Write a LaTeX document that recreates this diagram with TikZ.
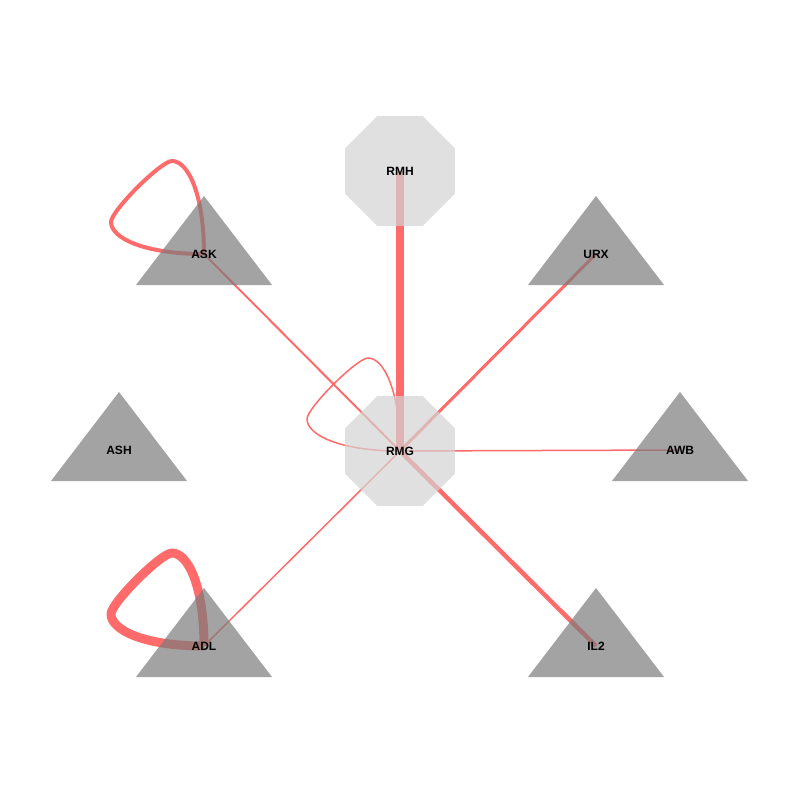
\documentclass[tikz,border=0pt]{standalone}
\usepackage{fontspec}
\setmainfont{Liberation Sans}
\usetikzlibrary{shapes.geometric}
\pgfdeclarelayer{bg}
\pgfsetlayers{bg,main}
\definecolor{edgecol}{RGB}{255,107,107}
\definecolor{octcol}{RGB}{211,211,211}
\definecolor{tricol}{RGB}{124,124,124}
\tikzset{
  edge/.style={draw=edgecol, line cap=butt, line join=round},
  octa/.style={regular polygon, regular polygon sides=8, minimum size=119pt, inner sep=0pt,
    fill=octcol, fill opacity=0.7, text opacity=1, font=\bfseries\fontsize{12}{14}\selectfont},
  lab/.style={inner sep=0pt, font=\bfseries\fontsize{12}{14}\selectfont},
  trifill/.style={fill=tricol, fill opacity=0.7},
}
\newcommand{\trinode}[3]{%
  \fill[trifill] (#2,#3) ++(0,-58) -- ++(68,89) -- ++(-136,0) -- cycle;
  \node[lab] (#1) at (#2,#3) {#1};}
% self loop: start at node centre, go up to a top apex, diagonal to a left apex, back
\newcommand{\selfloop}[2]{%
  \draw[edge, line width=#2] (#1.center)
    .. controls +(0,-60) and +(16,0) .. ++(-32,-93)
    .. controls +(-11,0) and +(0,-11) .. ++(-61,61)
    .. controls +(0,16) and +(-60,0) .. (#1.center);}
\begin{document}
\begin{tikzpicture}[x=1pt,y=-1pt]
\useasboundingbox (0,0) rectangle (800,800);
% nodes
\node[octa] (RMH) at (400,171) {RMH};
\node[octa] (RMG) at (400,451) {RMG};
\trinode{ASK}{204}{254}
\trinode{URX}{596}{254}
\trinode{ASH}{119}{450}
\trinode{AWB}{680}{450}
\trinode{ADL}{204}{646}
\trinode{IL2}{596}{646}
% edges
\begin{pgfonlayer}{bg}
\fill[white] (0,0) rectangle (800,800);
\draw[edge, line width=8pt] (RMH.center) -- (RMG.center);
\draw[edge, line width=2pt] (ASK.center) -- (RMG.center);
\draw[edge, line width=3pt] (URX.center) -- (RMG.center);
\draw[edge, line width=1.5pt] (AWB.center) -- (RMG.center);
\draw[edge, line width=1.5pt] (ADL.center) -- (RMG.center);
\draw[edge, line width=4.5pt] (IL2.center) -- (RMG.center);
\selfloop{ASK}{4pt}
\selfloop{ADL}{9pt}
\selfloop{RMG}{1.5pt}
\end{pgfonlayer}
\end{tikzpicture}
\end{document}
